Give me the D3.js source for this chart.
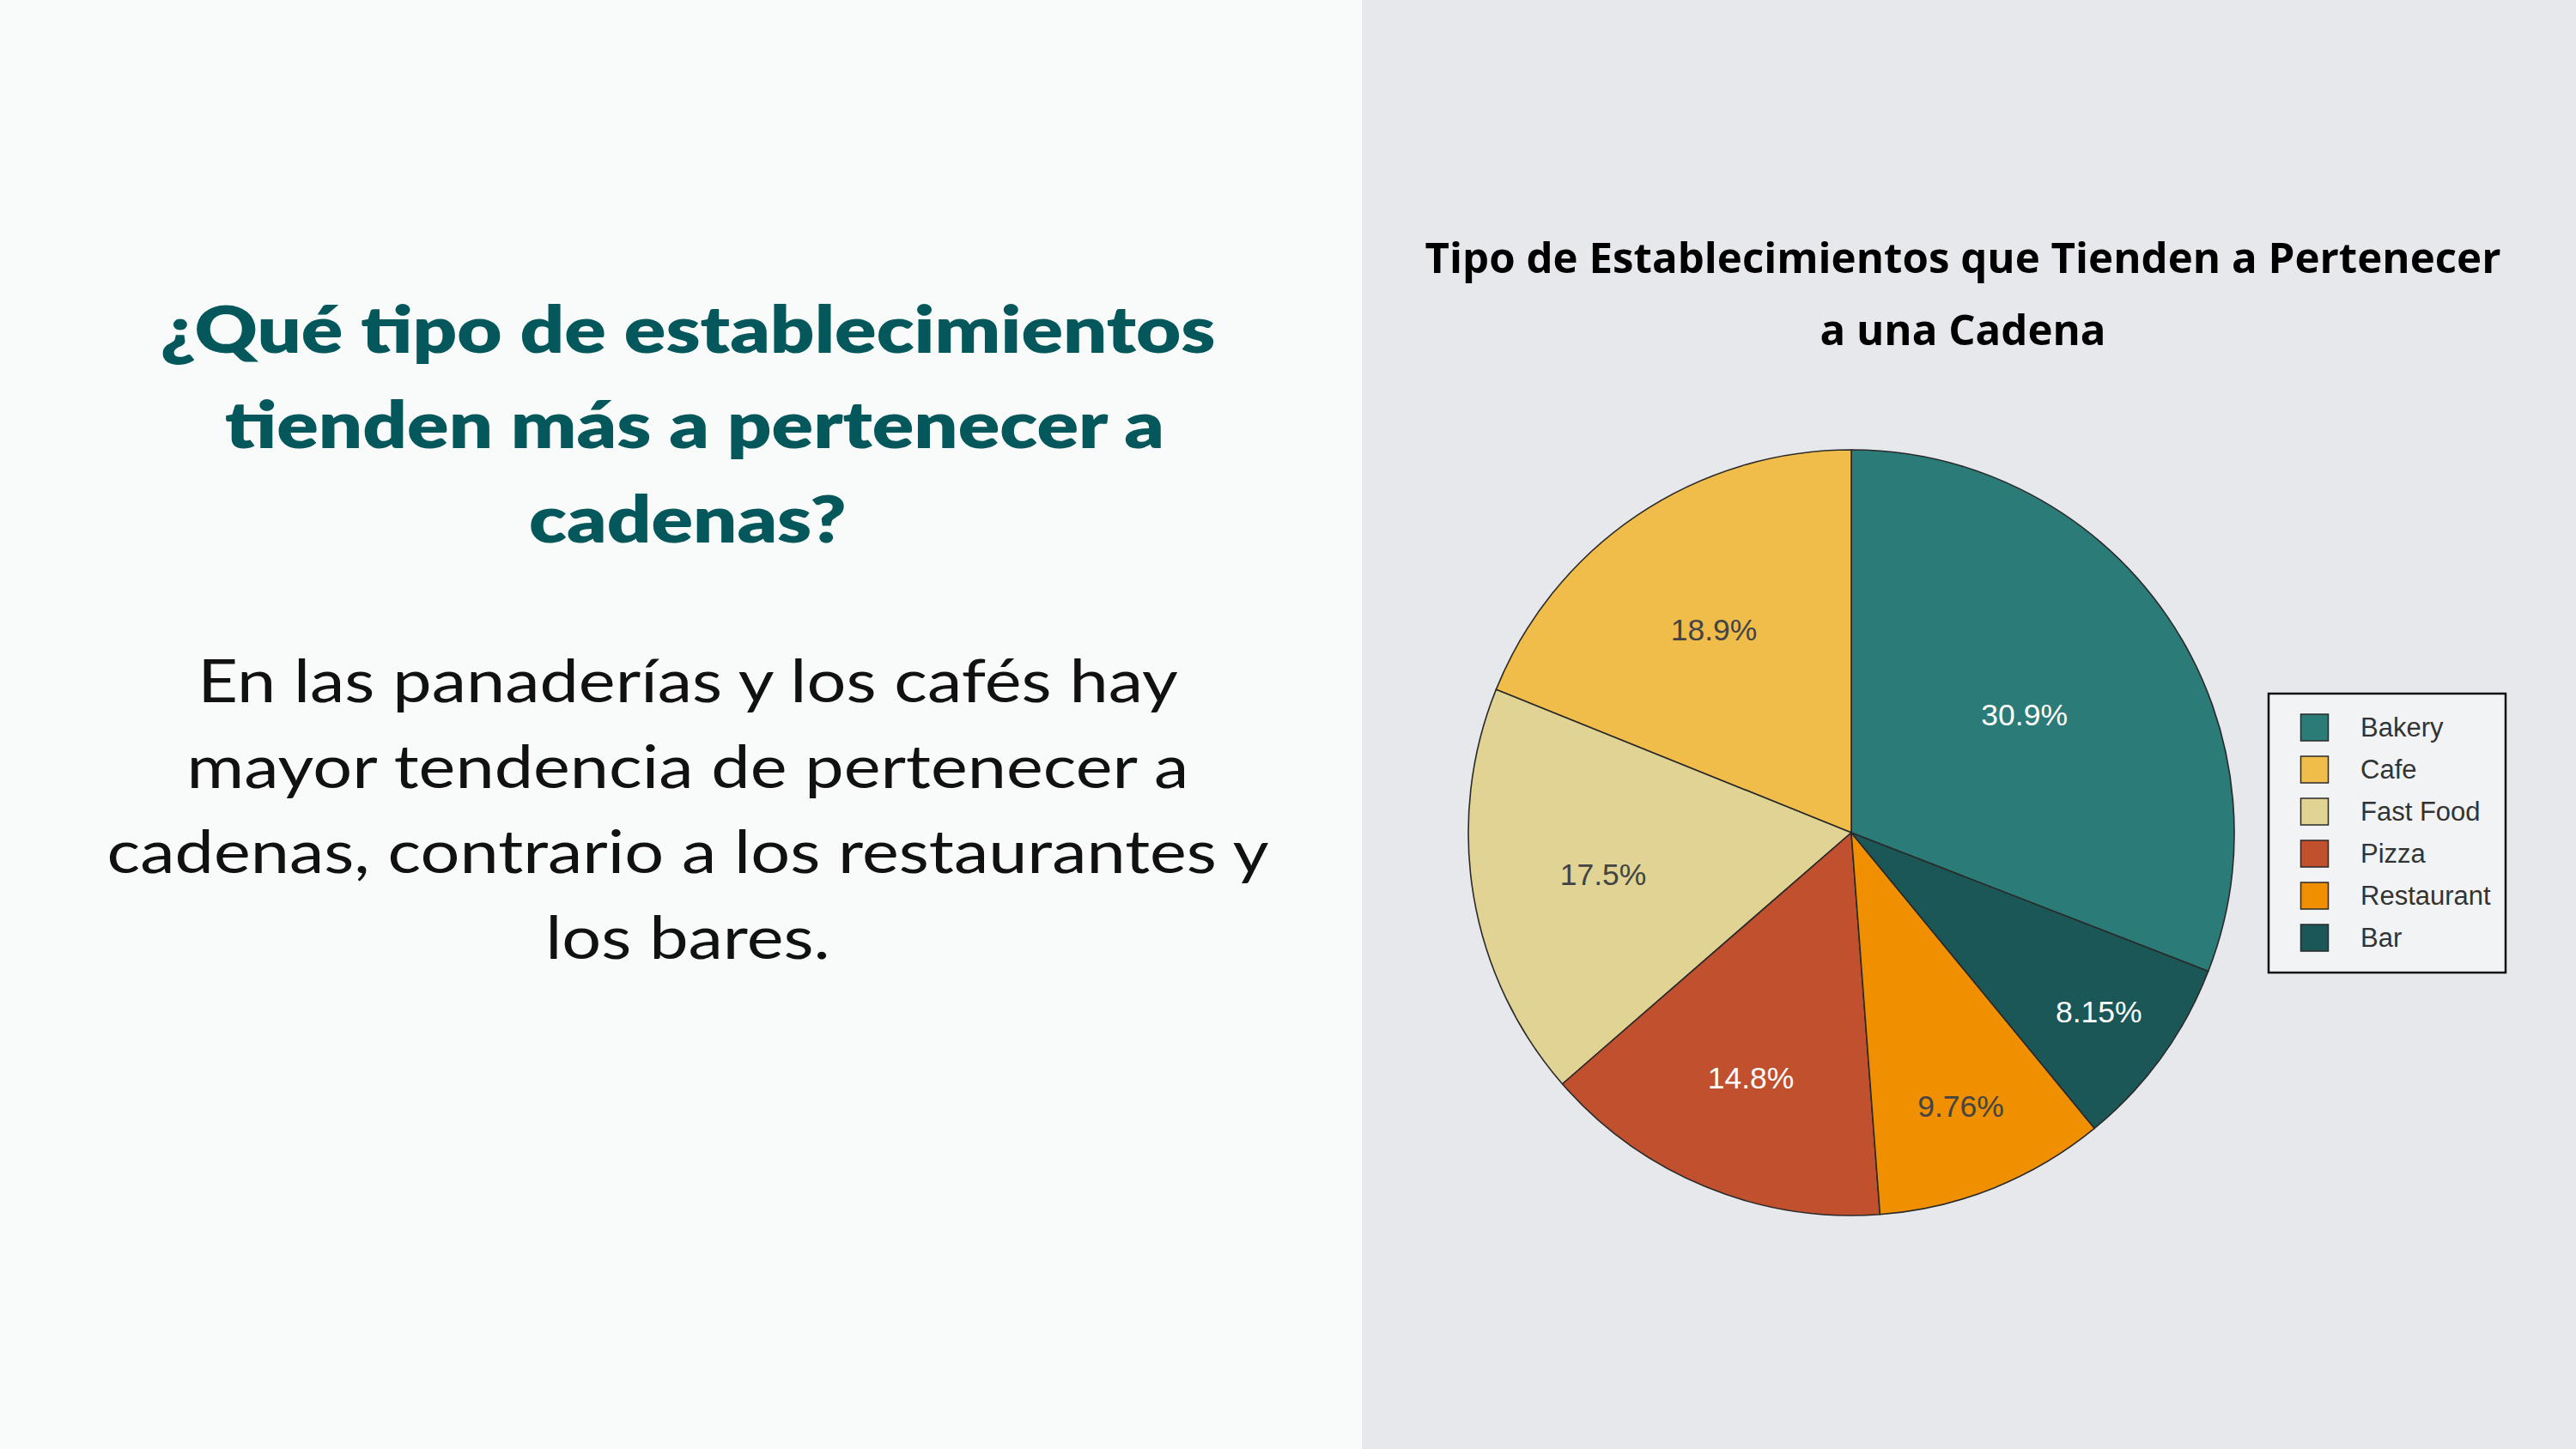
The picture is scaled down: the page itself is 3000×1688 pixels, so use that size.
<!DOCTYPE html>
<html>
<head>
<meta charset="utf-8">
<script src="https://cdn.jsdelivr.net/npm/d3@7"></script>
<style>
  html, body { margin: 0; padding: 0; background: #f9fafa; }
  svg { display: block; }
</style>
</head>
<body>
<svg id="chart" width="3000" height="1688"></svg>
<script>
// ---------- data ----------
const categories = ["Bakery", "Cafe", "Fast Food", "Pizza", "Restaurant", "Bar"];
const shares = [30.9, 18.9, 17.5, 14.8, 9.76, 8.15];
const shareLabels = ["30.9%", "18.9%", "17.5%", "14.8%", "9.76%", "8.15%"];
const sliceColors = ["#2b7b78", "#f0bd4b", "#e0d394", "#c0502e", "#f09000", "#1a5756"];
const labelColors = ["#ffffff", "#444444", "#444444", "#ffffff", "#444444", "#ffffff"];
const chartTitle = ["Tipo de Establecimientos que Tienden a Pertenecer", "a una Cadena"];
const headingLines = ["¿Qué tipo de establecimientos", "tienden más a pertenecer a", "cadenas?"];
const bodyLines = ["En las panaderías y los cafés hay", "mayor tendencia de pertenecer a", "cadenas, contrario a los restaurantes y", "los bares."];

// ---------- layout ----------
const W = 3000, H = 1688, splitX = 1586;
const svg = d3.select("#chart");

svg.append("rect").attr("x", 0).attr("y", 0).attr("width", splitX).attr("height", H).attr("fill", "#f9fafa");
svg.append("rect").attr("x", splitX).attr("y", 0).attr("width", W - splitX).attr("height", H).attr("fill", "#e7e8ec");

// stretch a set of lines so that one reference line reaches a target width
function stretch(sel, refIndex, target) {
  const w0 = sel.nodes()[refIndex].getComputedTextLength();
  const f = target / w0;
  sel.each(function () {
    const w = this.getComputedTextLength();
    d3.select(this).attr("textLength", w * f).attr("lengthAdjust", "spacingAndGlyphs");
  });
}

// left heading
const leftCx = 801;
const hTexts = svg.append("g").selectAll("text").data(headingLines).join("text")
  .attr("x", (d, i) => leftCx + (i === 1 ? 8 : 0))
  .attr("y", (d, i) => 411 + i * 110.5)
  .attr("text-anchor", "middle")
  .attr("font-family", "Lato, 'Noto Sans', sans-serif")
  .attr("font-weight", 800)
  .attr("font-size", 75)
  .attr("fill", "#04575a")
  .text(d => d);
stretch(hTexts, 0, 1229);

// left body
const bTexts = svg.append("g").selectAll("text").data(bodyLines).join("text")
  .attr("x", leftCx)
  .attr("y", (d, i) => 818 + i * 99.5)
  .attr("text-anchor", "middle")
  .attr("font-family", "Lato, 'Noto Sans', sans-serif")
  .attr("font-weight", 400)
  .attr("font-size", 70)
  .attr("fill", "#111111")
  .text(d => d);
stretch(bTexts, 2, 1353);

// chart title
const tTexts = svg.append("g").selectAll("text").data(chartTitle).join("text")
  .attr("x", 2286)
  .attr("y", (d, i) => 318 + i * 84)
  .attr("text-anchor", "middle")
  .attr("font-family", "'Open Sans', sans-serif")
  .attr("font-weight", 700)
  .attr("font-size", 47.5)
  .attr("fill", "#000000")
  .text(d => d);
stretch(tTexts, 0, 1253);

// ---------- pie ----------
const cx = 2156, cy = 970, R = 446;
const total = d3.sum(shares);
const a0 = 2 * Math.PI * shares[0] / total;
const pie = d3.pie().sort(null).value(d => d.v)
  .startAngle(a0).endAngle(a0 - 2 * Math.PI);
const data = categories.map((c, i) => ({ c, v: shares[i], label: shareLabels[i], color: sliceColors[i], tc: labelColors[i] }));
const arcs = pie(data);
const arc = d3.arc().innerRadius(0).outerRadius(R);

const g = svg.append("g").attr("transform", `translate(${cx},${cy})`);
g.selectAll("path").data(arcs).join("path")
  .attr("d", arc)
  .attr("fill", d => d.data.color)
  .attr("stroke", "#2a2a2a")
  .attr("stroke-width", 1.6)
  .attr("stroke-linejoin", "round");

// inside labels, placed at the inscribed-circle centre of each slice
g.selectAll("text").data(arcs).join("text")
  .each(function (d) {
    const half = Math.abs(d.endAngle - d.startAngle) / 2;
    const mid = (d.startAngle + d.endAngle) / 2;
    const rIns = Math.min(1 / (1 + 1 / Math.sin(half)), 0.5);
    const rc = (1 - rIns) * R;
    d3.select(this)
      .attr("x", rc * Math.sin(mid))
      .attr("y", -rc * Math.cos(mid));
  })
  .attr("dy", "0.36em")
  .attr("text-anchor", "middle")
  .attr("font-family", "'Liberation Sans', Arial, sans-serif")
  .attr("font-size", 35.5)
  .attr("fill", d => d.data.tc)
  .text(d => d.data.label);

// ---------- legend ----------
const lg = svg.append("g").attr("transform", "translate(2642,808)");
lg.append("rect").attr("x", 0).attr("y", 0).attr("width", 276).attr("height", 325)
  .attr("fill", "#f2f3f5").attr("stroke", "#111111").attr("stroke-width", 2.5);
const row = lg.selectAll("g.row").data(data).join("g").attr("class", "row")
  .attr("transform", (d, i) => `translate(0,${24 + i * 49})`);
row.append("rect").attr("x", 37.5).attr("y", 0).attr("width", 32).attr("height", 31)
  .attr("fill", d => d.color).attr("stroke", "#2a2a2a").attr("stroke-width", 1.5);
row.append("text").attr("x", 107).attr("y", 15.5).attr("dy", "0.35em")
  .attr("font-family", "'Liberation Sans', Arial, sans-serif")
  .attr("font-size", 31)
  .attr("fill", "#333333")
  .text(d => d.c);
</script>
</body>
</html>
